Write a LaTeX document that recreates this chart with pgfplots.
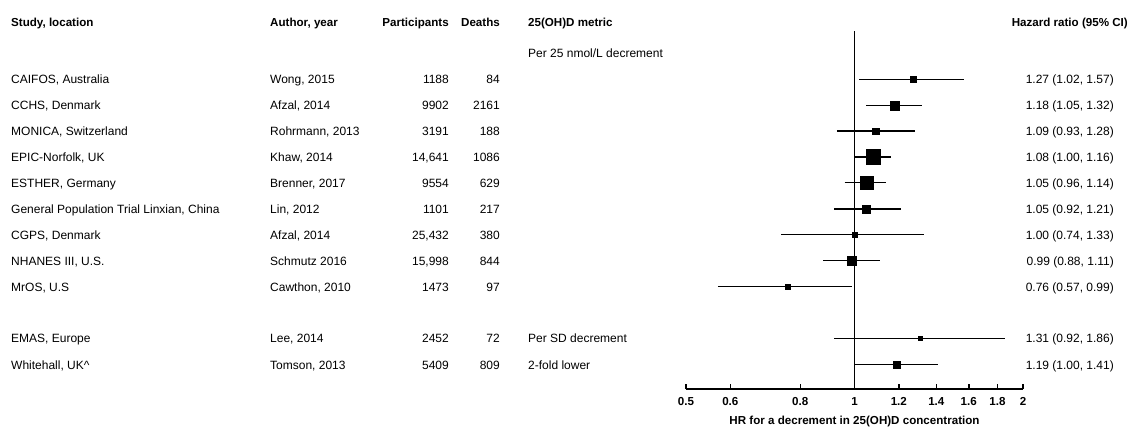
\documentclass[border=0pt]{standalone}
\usepackage{fontspec}
\setmainfont{Liberation Sans}
\usepackage{pgfplots}
\pgfplotsset{compat=1.18}
\usepackage{pgfplotstable}

\pgfplotstableread{
y hr ms
-79.3 1.27 3.0
-105.3 1.18 4.7
-131.0 1.09 3.3
-156.8 1.08 7.3
-182.7 1.05 6.3
-208.8 1.05 3.8
-234.7 1.00 2.2
-260.7 0.99 4.5
-286.7 0.76 2.7
-338.3 1.31 2.2
-364.7 1.19 3.5
}\hrdata

\newcommand{\fs}{\fontsize{12}{14}\selectfont}
\newcommand{\fb}{\fontsize{11.6}{13}\selectfont\bfseries}
\begin{document}
\begin{tikzpicture}[
  t/.style={anchor=base west, inner sep=0pt, font=\fs},
  r/.style={anchor=base east, inner sep=0pt, font=\fs},
  tb/.style={anchor=base west, inner sep=0pt, font=\fb},
  rb/.style={anchor=base east, inner sep=0pt, font=\fb},
  ci/.style={black, line width=1.5pt, no marks}
]
\path[use as bounding box] (0pt,0pt) rectangle (1132pt,-426pt);
\begin{axis}[
  at={(686pt,-389pt)}, anchor=south west,
  width=337pt, height=358pt, scale only axis,
  xmode=log, log basis x=2,
  xmin=0.5, xmax=2, ymin=-389, ymax=-31,
  axis x line*=bottom, axis y line=none,
  xtick={0.5,0.6,0.8,1,1.2,1.4,1.6,1.8,2},
  xticklabels={0.5,0.6,0.8,1,1.2,1.4,1.6,1.8,2},
  xticklabel style={font=\fb, inner sep=0pt, anchor=north, yshift=-8pt},
  tick align=inside, major tick length=5pt,
  axis line style={line width=1.5pt, black},
  major tick style={line width=1.5pt, black},
  minor tick num=0,
  clip=false,
]
\addplot[ci] coordinates {(1,-389) (1,-31)};
\addplot[ci] coordinates {(1.02,-79.3) (1.57,-79.3)};
\addplot[ci] coordinates {(1.05,-105.3) (1.32,-105.3)};
\addplot[ci] coordinates {(0.93,-131.0) (1.28,-131.0)};
\addplot[ci] coordinates {(1.00,-156.8) (1.16,-156.8)};
\addplot[ci] coordinates {(0.96,-182.7) (1.14,-182.7)};
\addplot[ci] coordinates {(0.92,-208.8) (1.21,-208.8)};
\addplot[ci] coordinates {(0.74,-234.7) (1.33,-234.7)};
\addplot[ci] coordinates {(0.88,-260.7) (1.11,-260.7)};
\addplot[ci] coordinates {(0.57,-286.7) (0.99,-286.7)};
\addplot[ci] coordinates {(0.92,-338.3) (1.86,-338.3)};
\addplot[ci] coordinates {(1.00,-364.7) (1.41,-364.7)};
\addplot[
  only marks, mark=square*,
  scatter, scatter/use mapped color={draw=black, fill=black},
  visualization depends on={\thisrow{ms} \as \msz},
  scatter/@pre marker code/.append style={/tikz/mark size=\msz pt},
  mark options={line width=0.2pt},
] table[x=hr, y=y] {\hrdata};
\end{axis}

% headers
\node[tb] at (11pt,-26pt) {Study, location};
\node[tb] at (270pt,-26pt) {Author, year};
\node[rb] at (449pt,-26pt) {Participants};
\node[rb] at (500pt,-26pt) {Deaths};
\node[tb] at (528pt,-26pt) {25(OH)D metric};
\node[rb] at (1128pt,-26pt) {Hazard ratio (95\% CI)};
\node[t] at (528pt,-57.3pt) {Per 25 nmol/L decrement};

% rows
\foreach \yy/\st/\au/\pa/\de/\hr in {
  79.3/{CAIFOS, Australia}/{Wong, 2015}/1188/84/{1.27 (1.02, 1.57)},
  105.3/{CCHS, Denmark}/{Afzal, 2014}/9902/2161/{1.18 (1.05, 1.32)},
  131.0/{MONICA, Switzerland}/{Rohrmann, 2013}/3191/188/{1.09 (0.93, 1.28)},
  156.8/{EPIC-Norfolk, UK}/{Khaw, 2014}/{14,641}/1086/{1.08 (1.00, 1.16)},
  182.7/{ESTHER, Germany}/{Brenner, 2017}/9554/629/{1.05 (0.96, 1.14)},
  208.8/{General Population Trial Linxian, China}/{Lin, 2012}/1101/217/{1.05 (0.92, 1.21)},
  234.7/{CGPS, Denmark}/{Afzal, 2014}/{25,432}/380/{1.00 (0.74, 1.33)},
  260.7/{NHANES III, U.S.}/{Schmutz 2016}/{15,998}/844/{0.99 (0.88, 1.11)},
  286.7/{MrOS, U.S}/{Cawthon, 2010}/1473/97/{0.76 (0.57, 0.99)},
  338.3/{EMAS, Europe}/{Lee, 2014}/2452/72/{1.31 (0.92, 1.86)},
  364.7/{Whitehall, UK\^{}}/{Tomson, 2013}/5409/809/{1.19 (1.00, 1.41)}
}{
  \node[t] at (11pt,{-(\yy+4.3)*1pt}) {\st};
  \node[t] at (270pt,{-(\yy+4.3)*1pt}) {\au};
  \node[r] at (449pt,{-(\yy+4.3)*1pt}) {\pa};
  \node[r] at (500pt,{-(\yy+4.3)*1pt}) {\de};
  \node[r] at (1114pt,{-(\yy+4.3)*1pt}) {\hr};
}
\node[t] at (528pt,-342.6pt) {Per SD decrement};
\node[t] at (528pt,-369.0pt) {2-fold lower};

\node[anchor=base, inner sep=0pt, font=\fb] at (854.5pt,-424.5pt) {HR for a decrement in 25(OH)D concentration};
\end{tikzpicture}
\end{document}
